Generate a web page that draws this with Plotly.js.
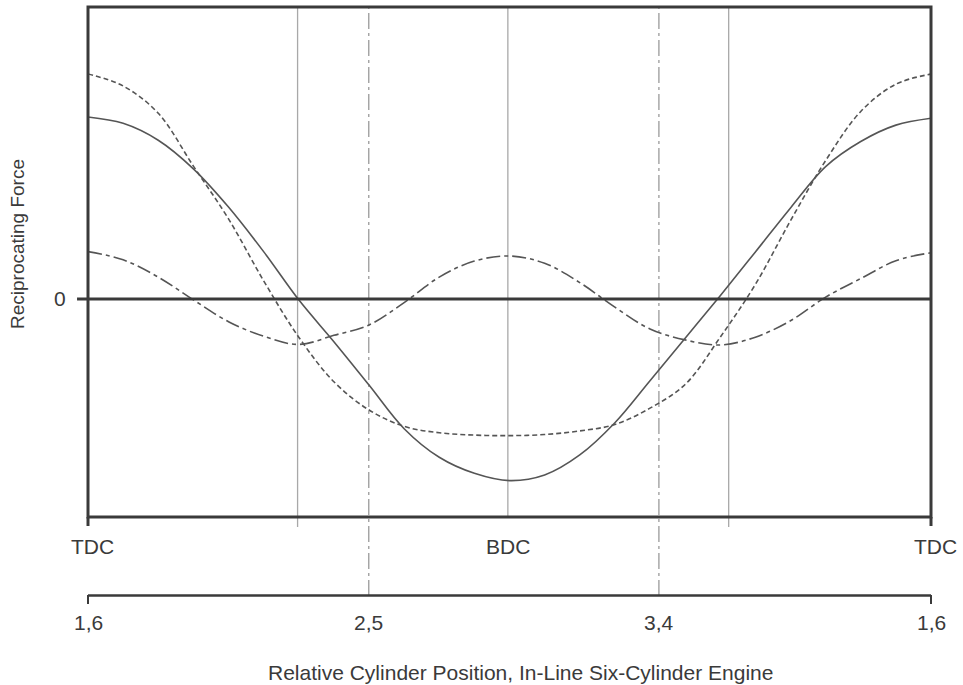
<!DOCTYPE html>
<html>
<head>
<meta charset="utf-8">
<script src="https://cdn.plot.ly/plotly-3.0.1.min.js"></script>
<style>
  html, body { margin: 0; padding: 0; background: #ffffff; }
  #chart { width: 963px; height: 685px; }
</style>
</head>
<body>
<div id="chart"></div>
<script>
// Crank angle in degrees (TDC = 0, BDC = 180, TDC = 360)
const crankDeg = [0, 15, 30, 45, 60, 75, 90, 105, 120, 135, 150, 165, 180,
                  195, 210, 225, 240, 255, 270, 285, 300, 315, 330, 345, 360];

// first-order (primary) reciprocating force
const primaryForce = [1.00, 0.965, 0.872, 0.715, 0.505, 0.26, -0.005, -0.235, -0.473, -0.713, -0.87, -0.958, -0.998,
                      -0.967, -0.857, -0.68, -0.449, -0.216, 0.018, 0.258, 0.50, 0.727, 0.865, 0.955, 0.993];

// total (primary + secondary) reciprocating force
const totalForce = [1.236, 1.17, 1.02, 0.73, 0.44, 0.10, -0.21, -0.455, -0.61, -0.70, -0.735, -0.748, -0.751,
                    -0.745, -0.725, -0.69, -0.60, -0.47, -0.21, 0.08, 0.43, 0.76, 1.03, 1.18, 1.235];

// second-order (secondary) reciprocating force
const secondaryForce = [0.26, 0.215, 0.12, -0.005, -0.125, -0.205, -0.25, -0.20, -0.143, -0.02, 0.12, 0.208, 0.236,
                        0.196, 0.09, -0.045, -0.165, -0.225, -0.253, -0.21, -0.12, 0.01, 0.112, 0.21, 0.254];

// Reference positions along the crank-angle axis
const deadCentreDeg = [0, 179.3, 360];
const deadCentreLabels = ['TDC', 'BDC', 'TDC'];
const zeroCrossDeg = [89.5, 273.6];
const cylinderDeg = [0, 119.9, 243.8, 360];
const cylinderLabels = ['1,6', '2,5', '3,4', '1,6'];

const ink = '#3a3a3a';
const curveInk = '#555555';
const fontFamily = '"Liberation Sans", Arial, sans-serif';

const traces = [
  {
    x: crankDeg, y: primaryForce, mode: 'lines', type: 'scatter',
    line: { color: curveInk, width: 1.6, shape: 'spline', smoothing: 1 },
    hoverinfo: 'skip'
  },
  {
    x: crankDeg, y: totalForce, mode: 'lines', type: 'scatter',
    line: { color: curveInk, width: 1.6, dash: '5px,3px', shape: 'spline', smoothing: 1 },
    hoverinfo: 'skip'
  },
  {
    x: crankDeg, y: secondaryForce, mode: 'lines', type: 'scatter',
    line: { color: curveInk, width: 1.6, dash: '14px,4px,4px,4px', shape: 'spline', smoothing: 1 },
    hoverinfo: 'skip'
  }
];

// pixel helper for the paper-referenced furniture (plot area: y 7..517)
const plotTop = 7, plotBottom = 517;
const py = p => (plotBottom - p) / (plotBottom - plotTop);

const shapes = [];

// frame
shapes.push({ type: 'rect', xref: 'paper', yref: 'paper', x0: 0, x1: 1, y0: 0, y1: 1,
  line: { color: ink, width: 3 }, layer: 'above' });
// frame ticks below the bottom edge
[0, 1].forEach(px => shapes.push({ type: 'line', xref: 'paper', yref: 'paper',
  x0: px, x1: px, y0: 0, y1: py(526), line: { color: ink, width: 3 } }));

// zero force line
shapes.push({ type: 'line', xref: 'paper', yref: 'y', x0: -0.013, x1: 1, y0: 0, y1: 0,
  line: { color: ink, width: 3 }, layer: 'above' });

// solid reference verticals
zeroCrossDeg.forEach(d => shapes.push({ type: 'line', xref: 'x', yref: 'paper',
  x0: d, x1: d, y0: py(527), y1: 1, line: { color: '#a8a8a8', width: 1.3 }, layer: 'below' }));
// BDC vertical
shapes.push({ type: 'line', xref: 'x', yref: 'paper', x0: deadCentreDeg[1], x1: deadCentreDeg[1],
  y0: 0, y1: 1, line: { color: '#a8a8a8', width: 1.3 }, layer: 'below' });
// cylinder verticals (dash-dot) down to the cylinder scale
cylinderDeg.slice(1, 3).forEach(d => shapes.push({ type: 'line', xref: 'x', yref: 'paper',
  x0: d, x1: d, y0: py(596), y1: 1, line: { color: '#9a9a9a', width: 1.3, dash: '16px,4px,3px,4px' }, layer: 'below' }));

// cylinder position scale
shapes.push({ type: 'line', xref: 'paper', yref: 'paper', x0: 0, x1: 1, y0: py(595.5), y1: py(595.5),
  line: { color: ink, width: 2.6 } });
[0, 1].forEach(px => shapes.push({ type: 'line', xref: 'paper', yref: 'paper',
  x0: px, x1: px, y0: py(595), y1: py(604), line: { color: ink, width: 2 } }));

const annotations = [];
deadCentreDeg.forEach((d, i) => annotations.push({
  x: d, xref: 'x', y: py(546), yref: 'paper', text: deadCentreLabels[i], showarrow: false,
  xanchor: 'center', yanchor: 'middle', xshift: i === 1 ? 0 : 4,
  font: { family: fontFamily, size: 21, color: ink }
}));
cylinderDeg.forEach((d, i) => annotations.push({
  x: d, xref: 'x', y: py(622), yref: 'paper', text: cylinderLabels[i], showarrow: false,
  xanchor: 'center', yanchor: 'middle',
  font: { family: fontFamily, size: 21, color: ink }
}));
annotations.push({
  x: -0.033, xref: 'paper', y: 0, yref: 'y', text: '0', showarrow: false,
  xanchor: 'center', yanchor: 'middle', font: { family: fontFamily, size: 21, color: ink }
});
annotations.push({
  x: 0.5125, xref: 'paper', y: py(672), yref: 'paper',
  text: 'Relative Cylinder Position, In-Line Six-Cylinder Engine', showarrow: false,
  xanchor: 'center', yanchor: 'middle', font: { family: fontFamily, size: 21, color: ink }
});
annotations.push({
  x: -0.0842, xref: 'paper', y: py(244), yref: 'paper', text: 'Reciprocating Force',
  textangle: -90, showarrow: false, xanchor: 'center', yanchor: 'middle',
  font: { family: fontFamily, size: 19, color: ink }
});

const layout = {
  width: 963, height: 685,
  margin: { l: 88, r: 32, t: 7, b: 168 },
  paper_bgcolor: '#ffffff', plot_bgcolor: '#ffffff',
  showlegend: false,
  xaxis: { range: [0, 360], visible: false, fixedrange: true },
  yaxis: { range: [-1.198, 1.604], visible: false, fixedrange: true },
  shapes: shapes,
  annotations: annotations
};

Plotly.newPlot('chart', traces, layout, { staticPlot: true, displayModeBar: false });
</script>
</body>
</html>
